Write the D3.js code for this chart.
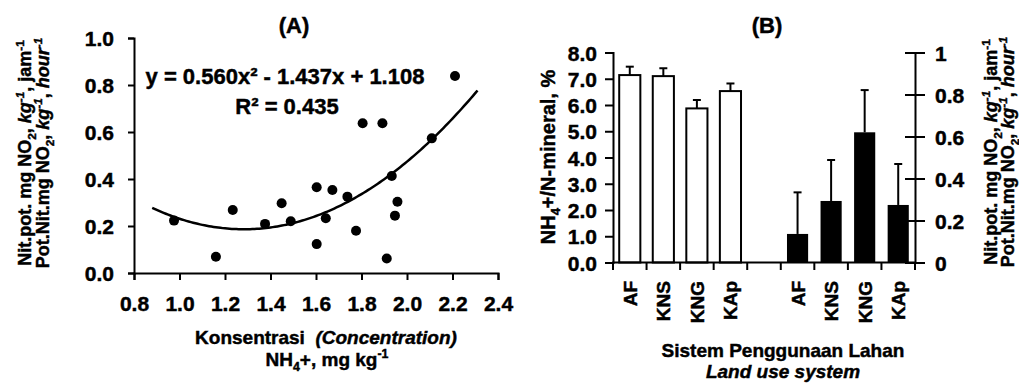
<!DOCTYPE html>
<html>
<head>
<meta charset="utf-8">
<script src="https://cdn.jsdelivr.net/npm/d3@7"></script>
<style>
  body { margin: 0; background: #fff; }
  svg { display: block; }
  text { font-family: "Liberation Sans", Arial, sans-serif; font-weight: bold; fill: #000; stroke: #000; stroke-width: 0.45px; }
</style>
</head>
<body>
<script>
// panel A: scatter of NH4+ concentration vs potential nitrification
var concX = [0.976, 1.160, 1.234, 1.376, 1.449, 1.489, 1.603, 1.603, 1.643, 1.672,
             1.738, 1.776, 1.805, 1.892, 1.911, 1.933, 1.958, 1.947, 2.109, 2.211];
var nitY  = [0.223, 0.069, 0.268, 0.209, 0.297, 0.220, 0.365, 0.123, 0.233, 0.353,
             0.325, 0.180, 0.637, 0.637, 0.062, 0.413, 0.303, 0.244, 0.573, 0.838];
// trendline coefficients as printed on the chart (a, b, c)
var trendCoef = [0.560, -1.437, 1.108];
var trendRange = [0.88, 2.31];
var xTicksA = [0.8, 1.0, 1.2, 1.4, 1.6, 1.8, 2.0, 2.2, 2.4];
var yTicksA = [0, 0.2, 0.4, 0.6, 0.8, 1.0];

// panel B: bars per land use system
var landUse = ["AF", "KNS", "KNG", "KAp"];
var ratioVal = [7.14, 7.10, 5.87, 6.53];
var ratioErr = [0.32, 0.30, 0.32, 0.29];
var nitVal   = [0.136, 0.293, 0.620, 0.274];
var nitErr   = [0.198, 0.195, 0.201, 0.195];
var yTicksBL = [0, 1, 2, 3, 4, 5, 6, 7, 8];
var yTicksBR = [0, 0.2, 0.4, 0.6, 0.8, 1];

var W = 1019, H = 383;
var svg = d3.select('body').append('svg')
    .attr('width', W)
    .attr('height', H);

// helper for titles with sub/superscripts
function richText(sel, parts, size) {
    parts.forEach(function(p) {
        var t = sel.append('tspan').text(p.t);
        if (p.i) t.style('font-style', 'italic');
        if (p.sub) t.attr('font-size', size * 0.65).attr('dy', size * 0.25);
        if (p.sup) t.attr('font-size', size * 0.65).attr('dy', -size * 0.4);
        if (p.back) t.attr('dy', p.back * size);
    });
}

function styleAxis(g, size) {
    g.attr('font-family', null).attr('font-size', null);
    g.select('.domain').attr('stroke-width', 2);
    g.selectAll('.tick line').attr('stroke-width', 2);
    g.selectAll('text').attr('font-size', size).attr('font-weight', 'bold').attr('dy', '0.36em');
}

var lineNit = [
    {t: 'Nit.pot. mg NO'}, {t: '2', sub: 1}, {t: ', ', back: -0.25},
    {t: 'kg', i: 1}, {t: '-1', sup: 1, i: 1}, {t: ', jam', back: 0.4}, {t: '-1', sup: 1}
];
var linePot = [
    {t: 'Pot.Nit.mg NO'}, {t: '2', sub: 1}, {t: ', ', back: -0.25},
    {t: 'kg', i: 1}, {t: '-1', sup: 1, i: 1}, {t: ', ', back: 0.4},
    {t: 'hour', i: 1}, {t: '-1', sup: 1, i: 1}
];

// ---------- Panel A ----------
var xA = d3.scaleLinear().domain([0.8, 2.4]).range([134, 498]);
var yA = d3.scaleLinear().domain([0, 1]).range([273, 38]);

var gA = svg.append('g');

gA.append('g')
    .attr('transform', 'translate(134,0)')
    .call(d3.axisLeft(yA).tickValues(yTicksA).tickFormat(d3.format('.1f')).tickSizeOuter(0).tickSize(6).tickPadding(14))
    .call(styleAxis, 21);

gA.append('g')
    .attr('class', 'xaxisA')
    .attr('transform', 'translate(0,273)')
    .call(d3.axisBottom(xA).tickValues(xTicksA).tickFormat(d3.format('.1f')).tickSizeOuter(0).tickSize(7).tickPadding(16))
    .call(styleAxis, 21)
    .call(function(g) { g.selectAll('text').attr('dy', '0.71em'); });

// trendline drawn from the printed equation
var trendPts = d3.range(trendRange[0], trendRange[1] + 0.001, 0.01).map(function(x) {
    return [x, trendCoef[0] * x * x + trendCoef[1] * x + trendCoef[2]];
});
gA.append('path')
    .datum(trendPts)
    .attr('fill', 'none')
    .attr('stroke', '#000')
    .attr('stroke-width', 2.5)
    .attr('d', d3.line().x(function(d) { return xA(d[0]); }).y(function(d) { return yA(d[1]); }));

gA.selectAll('circle.pt')
    .data(concX)
    .enter().append('circle')
    .attr('class', 'pt')
    .attr('cx', function(d) { return xA(d); })
    .attr('cy', function(d, i) { return yA(nitY[i]); })
    .attr('r', 5)
    .attr('fill', '#000');

gA.append('text').attr('x', 285).attr('y', 84).attr('text-anchor', 'middle').attr('font-size', 22)
    .text('y = 0.560x\u00B2 - 1.437x + 1.108');
gA.append('text').attr('x', 287).attr('y', 114).attr('text-anchor', 'middle').attr('font-size', 22)
    .text('R\u00B2 = 0.435');

gA.append('text').attr('x', 294).attr('y', 33).attr('text-anchor', 'middle').attr('font-size', 22).text('(A)');

var tA1 = gA.append('text').attr('transform', 'translate(31,153) rotate(-90)').attr('text-anchor', 'middle').attr('font-size', 18);
richText(tA1, lineNit, 18);
var tA2 = gA.append('text').attr('transform', 'translate(49,153) rotate(-90)').attr('text-anchor', 'middle').attr('font-size', 18);
richText(tA2, linePot, 18);

var xt1 = gA.append('text').attr('x', 326).attr('y', 344).attr('text-anchor', 'middle').attr('font-size', 19)
    .attr('xml:space', 'preserve');
xt1.append('tspan').text('Konsentrasi  ');
xt1.append('tspan').style('font-style', 'italic').text('(Concentration)');
var xt2 = gA.append('text').attr('x', 327).attr('y', 366).attr('text-anchor', 'middle').attr('font-size', 19);
richText(xt2, [{t: 'NH'}, {t: '4', sub: 1}, {t: '+, mg kg', back: -0.25}, {t: '-1', sup: 1}], 19);

// ---------- Panel B ----------
var keys = landUse.map(function(d) { return 'a' + d; })
    .concat(['gap'])
    .concat(landUse.map(function(d) { return 'b' + d; }));
var xB = d3.scaleBand().domain(keys).range([613, 915]).paddingInner(0.37).paddingOuter(0.185);
var yBL = d3.scaleLinear().domain([0, 8]).range([262.5, 52.5]);
var yBR = d3.scaleLinear().domain([0, 1]).range([262.5, 52.5]);

var gB = svg.append('g');

// white bars: NH4+/N-mineral
gB.selectAll('rect.ratio')
    .data(ratioVal)
    .enter().append('rect')
    .attr('class', 'ratio')
    .attr('x', function(d, i) { return xB('a' + landUse[i]); })
    .attr('width', xB.bandwidth())
    .attr('y', function(d) { return yBL(d); })
    .attr('height', function(d) { return yBL(0) - yBL(d); })
    .attr('fill', '#fff')
    .attr('stroke', '#000')
    .attr('stroke-width', 2);

// black bars: potential nitrification
gB.selectAll('rect.nit')
    .data(nitVal)
    .enter().append('rect')
    .attr('class', 'nit')
    .attr('x', function(d, i) { return xB('b' + landUse[i]); })
    .attr('width', xB.bandwidth())
    .attr('y', function(d) { return yBR(d); })
    .attr('height', function(d) { return yBR(0) - yBR(d); })
    .attr('fill', '#000');

function errBars(vals, errs, prefix, y) {
    var g = gB.append('g').attr('stroke', '#000').attr('stroke-width', 2);
    vals.forEach(function(v, i) {
        var cx = xB(prefix + landUse[i]) + xB.bandwidth() / 2;
        g.append('line').attr('x1', cx).attr('x2', cx).attr('y1', y(v)).attr('y2', y(v + errs[i]));
        g.append('line').attr('x1', cx - 4).attr('x2', cx + 4).attr('y1', y(v + errs[i])).attr('y2', y(v + errs[i]));
    });
}
errBars(ratioVal, ratioErr, 'a', yBL);
errBars(nitVal, nitErr, 'b', yBR);

gB.append('g')
    .attr('transform', 'translate(613,0)')
    .call(d3.axisLeft(yBL).tickValues(yTicksBL).tickFormat(d3.format('.1f')).tickSizeOuter(0).tickSize(8).tickPadding(8))
    .call(styleAxis, 21);

gB.append('g')
    .attr('transform', 'translate(915,0)')
    .call(d3.axisRight(yBR).tickValues(yTicksBR).tickFormat(d3.format('')).tickSizeOuter(0).tickSize(10).tickPadding(10))
    .call(styleAxis, 21)
    .call(function(g) { g.selectAll('.tick line').attr('x1', -10); });

// category axis with ticks on band edges
var edges = d3.range(keys.length + 1).map(function(i) { return 613 + i * xB.step(); });
var gx = gB.append('g').attr('stroke', '#000').attr('stroke-width', 2);
gx.append('line').attr('x1', 612).attr('x2', 916).attr('y1', 262.5).attr('y2', 262.5);
gx.selectAll('line.tk').data(edges).enter().append('line')
    .attr('class', 'tk')
    .attr('x1', function(d) { return d; }).attr('x2', function(d) { return d; })
    .attr('y1', 262.5).attr('y2', 270);

gB.selectAll('text.cat')
    .data(keys.filter(function(k) { return k !== 'gap'; }))
    .enter().append('text')
    .attr('class', 'cat')
    .attr('transform', function(k) { return 'translate(' + (xB(k) + xB.bandwidth() / 2 + 7) + ',281) rotate(-90)'; })
    .attr('text-anchor', 'end')
    .attr('font-size', 19)
    .text(function(k) { return k.slice(1); });

gB.append('text').attr('x', 767).attr('y', 33).attr('text-anchor', 'middle').attr('font-size', 22).text('(B)');

var tBL = gB.append('text').attr('transform', 'translate(555,157) rotate(-90)').attr('text-anchor', 'middle').attr('font-size', 20);
richText(tBL, [{t: 'NH'}, {t: '4', sub: 1}, {t: '+/N-mineral, %', back: -0.25}], 20);

var tB1 = gB.append('text').attr('transform', 'translate(997,152) rotate(-90)').attr('text-anchor', 'middle').attr('font-size', 18);
richText(tB1, lineNit, 18);
var tB2 = gB.append('text').attr('transform', 'translate(1014,152) rotate(-90)').attr('text-anchor', 'middle').attr('font-size', 18);
richText(tB2, linePot, 18);

gB.append('text').attr('x', 783).attr('y', 357).attr('text-anchor', 'middle').attr('font-size', 19)
    .text('Sistem Penggunaan Lahan');
gB.append('text').attr('x', 783).attr('y', 378).attr('text-anchor', 'middle').attr('font-size', 19)
    .style('font-style', 'italic').text('Land use system');
</script>
</body>
</html>
